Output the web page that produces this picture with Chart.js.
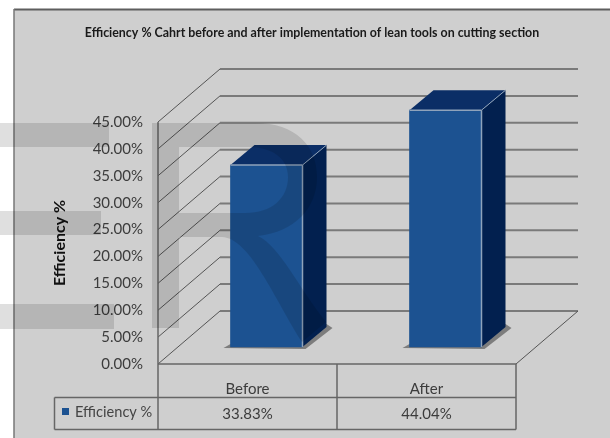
<!DOCTYPE html>
<html>
<head>
<meta charset="utf-8">
<title>Efficiency % chart</title>
<script src="https://cdn.jsdelivr.net/npm/chart.js@4/dist/chart.umd.min.js"></script>
<style>
    html, body { margin: 0; padding: 0; background: #fff; }
    canvas { display: block; }
</style>
</head>
<body>
<canvas id="efficiencyChart" width="610" height="438"></canvas>
<script>
// chart data
const categories = ['Before', 'After'];
const seriesName = 'Efficiency %';
const efficiency = [33.83, 44.04];
const yTicks = [0, 5, 10, 15, 20, 25, 30, 35, 40, 45];
const chartTitle = 'Efficiency % Cahrt before and after implementation of lean tools on cutting section';

const fontName = 'Lato, "Open Sans", sans-serif';
const pct = v => v.toFixed(2) + '%';

// depth of the fake 3D box and of the bars inside it
const wallDx = 62, wallDy = 53;
const barShiftX = 19, barShiftY = 17;
const barDx = 24, barDy = 20;

function line(ctx, x1, y1, x2, y2, color, width) {
    ctx.strokeStyle = color;
    ctx.lineWidth = width;
    ctx.beginPath();
    ctx.moveTo(x1, y1);
    ctx.lineTo(x2, y2);
    ctx.stroke();
}

function poly(ctx, pts, color) {
    ctx.fillStyle = color;
    ctx.beginPath();
    pts.forEach((p, i) => i ? ctx.lineTo(p[0], p[1]) : ctx.moveTo(p[0], p[1]));
    ctx.closePath();
    ctx.fill();
}

// grey panel and title behind everything
const panelPlugin = {
    id: 'panel',
    beforeDraw(chart) {
        const ctx = chart.ctx;
        ctx.save();
        ctx.fillStyle = '#cfcfcf';
        ctx.fillRect(14, 9, 596, 429);
        line(ctx, 14, 9.5, 610, 9.5, '#5e5e5e', 2);
        line(ctx, 14, 9, 14, 438, '#777', 1.5);
        ctx.fillStyle = '#1a1a1a';
        ctx.font = 'bold 12.4px ' + fontName;
        ctx.textAlign = 'center';
        ctx.textBaseline = 'middle';
        ctx.fillText(chartTitle, 312, 33);
        ctx.restore();
    }
};

// walls, floor, gridlines and the data table frame
const boxPlugin = {
    id: 'box',
    beforeDatasetsDraw(chart) {
        const ctx = chart.ctx, x = chart.scales.x, y = chart.scales.y;
        const yBase = y.getPixelForValue(0);
        const tableBottom = 429.5, rowLine = 397.5, tableLeft = 54.5;
        ctx.save();
        yTicks.forEach(t => {
            const py = y.getPixelForValue(t);
            line(ctx, x.left, py, x.left + wallDx, py - wallDy, '#555', 1);
            line(ctx, x.left + wallDx, py - wallDy, x.right + wallDx, py - wallDy, '#7a7a7a', 2);
        });
        line(ctx, x.right, yBase, x.right + wallDx, yBase - wallDy, '#555', 1);
        // front axis and table
        line(ctx, x.left, y.getPixelForValue(45), x.left, tableBottom, '#666', 1.5);
        line(ctx, x.left, yBase, x.right, yBase, '#666', 1.5);
        line(ctx, tableLeft, rowLine, x.right, rowLine, '#666', 1.5);
        line(ctx, tableLeft, tableBottom, x.right, tableBottom, '#666', 1.5);
        line(ctx, tableLeft, rowLine, tableLeft, tableBottom, '#666', 1.5);
        line(ctx, x.right, yBase, x.right, tableBottom, '#666', 1.5);
        const mid = (x.getPixelForValue(0) + x.getPixelForValue(1)) / 2;
        line(ctx, mid, yBase, mid, tableBottom, '#666', 1.5);
        // legend key in the table
        ctx.fillStyle = '#1c5291';
        ctx.fillRect(62, 408, 7, 7);
        ctx.fillStyle = '#444';
        ctx.font = '14.6px ' + fontName;
        ctx.textAlign = 'left';
        ctx.textBaseline = 'middle';
        ctx.fillText(seriesName, 75, 412);
        ctx.restore();

        // shift bars back into the box
        ctx.save();
        ctx.translate(barShiftX, -barShiftY);
        chart.getDatasetMeta(0).data.forEach(bar => {
            const l = bar.x - bar.width / 2, r = bar.x + bar.width / 2;
            poly(ctx, [[l - 7, bar.base + 1], [l, bar.base - 3], [r + barDx, bar.base - barDy - 3],
                [r + barDx + 6, bar.base - barDy + 1], [r + 3, bar.base + 2]], '#7d7d7d');
        });
    },
    afterDatasetsDraw(chart) {
        const ctx = chart.ctx;
        chart.getDatasetMeta(0).data.forEach(bar => {
            const l = bar.x - bar.width / 2, r = bar.x + bar.width / 2;
            poly(ctx, [[l, bar.y], [l + barDx, bar.y - barDy], [r + barDx, bar.y - barDy], [r, bar.y]], '#0b2e66');
            poly(ctx, [[r, bar.y], [r + barDx, bar.y - barDy], [r + barDx, bar.base - barDy], [r, bar.base]], '#02204f');
            line(ctx, l, bar.y, r, bar.y, '#8fa3bb', 1.5);
            line(ctx, r, bar.y, r, bar.base, '#8fa3bb', 1.5);
            line(ctx, r, bar.y, r + barDx, bar.y - barDy, '#8fa3bb', 1);
        });
        ctx.restore();
    }
};

// the translucent letter stamped over the picture
const stampPlugin = {
    id: 'stamp',
    afterDraw(chart) {
        const ctx = chart.ctx;
        ctx.save();
        ctx.fillStyle = 'rgba(0,0,0,0.125)';
        ctx.fillRect(0, 123, 109, 24);
        ctx.fillRect(0, 211, 101, 24);
        ctx.fillRect(0, 304, 114, 25);
        ctx.beginPath();
        ctx.moveTo(152, 123);
        ctx.lineTo(255, 123);
        ctx.bezierCurveTo(296, 123, 317, 146, 317, 177);
        ctx.bezierCurveTo(317, 208, 295, 232, 258, 236);
        ctx.bezierCurveTo(280, 246, 300, 290, 326, 322);
        ctx.lineTo(302, 342);
        ctx.bezierCurveTo(275, 300, 250, 238, 222, 237);
        ctx.lineTo(179, 237);
        ctx.lineTo(179, 328);
        ctx.lineTo(152, 328);
        ctx.closePath();
        ctx.moveTo(179, 147);
        ctx.lineTo(179, 213);
        ctx.lineTo(245, 213);
        ctx.bezierCurveTo(272, 213, 288, 198, 288, 177);
        ctx.bezierCurveTo(288, 158, 272, 147, 248, 147);
        ctx.closePath();
        ctx.fill('evenodd');
        ctx.restore();
    }
};

new Chart(document.getElementById('efficiencyChart'), {
    type: 'bar',
    data: {
        labels: categories,
        datasets: [{
            label: seriesName,
            data: efficiency,
            backgroundColor: '#1c5291',
            barThickness: 72,
            clip: false
        }]
    },
    options: {
        responsive: false,
        animation: false,
        layout: { padding: { left: 50, right: 94, top: 122, bottom: 0 } },
        plugins: {
            legend: { display: false },
            tooltip: { enabled: false }
        },
        scales: {
            x: {
                grid: { display: false },
                border: { display: false },
                afterFit(s) { s.height = 74; },
                ticks: {
                    color: '#3c3c3c',
                    padding: 5,
                    font: { family: fontName, size: 15, lineHeight: 1.67 },
                    callback(v, i) { return [categories[i], pct(efficiency[i])]; }
                }
            },
            y: {
                min: 0,
                max: 45,
                afterFit(s) { s.width = 108; },
                afterBuildTicks(s) { s.ticks = yTicks.map(v => ({ value: v })); },
                grid: { display: false },
                border: { display: false },
                title: {
                    display: true,
                    text: seriesName,
                    color: '#111',
                    font: { family: fontName, size: 16, weight: 'bold' },
                    padding: 0
                },
                ticks: {
                    color: '#3c3c3c',
                    padding: 7,
                    font: { family: fontName, size: 15 },
                    callback: v => pct(v)
                }
            }
        }
    },
    plugins: [panelPlugin, boxPlugin, stampPlugin]
});
</script>
</body>
</html>
